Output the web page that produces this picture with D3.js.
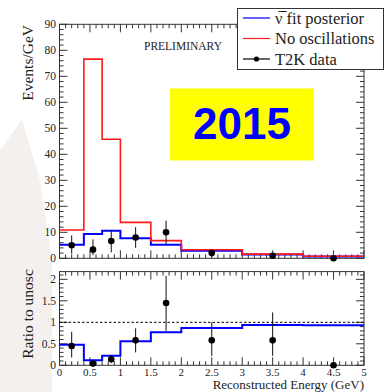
<!DOCTYPE html>
<html>
<head>
<meta charset="utf-8">
<script src="https://cdn.jsdelivr.net/npm/d3@7"></script>
<style>
  html, body { margin: 0; padding: 0; background: #ffffff; }
  svg { display: block; }
  text { font-family: "Liberation Serif", "DejaVu Serif", serif; fill: #222; }
</style>
</head>
<body>
<svg id="chart" width="390" height="392"></svg>
<script>
// Bin edges of reconstructed energy (GeV)
const binEdges = [0, 0.4, 0.7, 1.0, 1.5, 2.0, 3.0, 4.0, 5.0];
// Events/GeV per bin
const noOscValues = [10.9, 76.6, 45.8, 13.8, 6.8, 3.3, 1.6, 0.8];
const fitValues   = [5.2, 9.3, 10.6, 7.7, 5.2, 2.9, 1.5, 0.7];
// Ratio of the fit posterior to the unoscillated prediction
const ratioFitValues = [0.48, 0.12, 0.22, 0.56, 0.77, 0.87, 0.94, 0.93];
// Data points: energy, Events/GeV, error low/high
const dataX    = [0.2, 0.55, 0.85, 1.25, 1.75, 2.5, 3.5, 4.5];
const dataY    = [5.0, 3.33, 6.67, 8.0, 10.0, 2.0, 1.0, 0.0];
const dataLo   = [1.8, 1.2, 2.3, 4.0, 5.5, 0.6, 0.0, 0.0];
const dataHi   = [8.8, 7.3, 10.8, 12.0, 14.5, 3.4, 2.0, 0.0];
// Data ratio to unoscillated
const ratioY   = [0.45, 0.04, 0.14, 0.58, 1.45, 0.58, 0.58, 0.0];
const ratioLo  = [0.18, 0.0, 0.05, 0.30, 0.80, 0.22, 0.22, 0.0];
const ratioHi  = [0.78, 0.0, 0.24, 0.86, 2.08, 1.00, 1.23, 0.0];
// Tick labels
const topYTicks = [0, 10, 20, 30, 40, 50, 60, 70, 80, 90];
const botYTicks = [0, 0.5, 1, 1.5, 2];
const botXTicks = [0, 0.5, 1, 1.5, 2, 2.5, 3, 3.5, 4, 4.5, 5];
const legendLabels = ["\u03BD\u0305 fit posterior", "No oscillations", "T2K data"];

const svg = d3.select("#chart");

// faint slide backdrop on the left edge
svg.append("path")
  .attr("d", "M0,150 L22,120 L40,180 L52,260 L52,392 L0,392 Z")
  .attr("fill", "#f1ecea").attr("opacity", 0.8);

const x = d3.scaleLinear().domain([0, 5]).range([59.5, 364]);
const yTop = d3.scaleLinear().domain([0, 90]).range([258.3, 24.3]);
const yBot = d3.scaleLinear().domain([0, 2.18]).range([365.3, 271.6]);

const frameColor = "#333";

function drawFrame(y, yMajor, yMinor, xMajor, xMinor) {
  const [y0, y1] = y.range();
  const [x0, x1] = x.range();
  const g = svg.append("g");
  g.append("rect").attr("x", x0).attr("y", y1).attr("width", x1 - x0).attr("height", y0 - y1)
    .attr("fill", "#fff").attr("stroke", frameColor).attr("stroke-width", 1);
  const tk = g.append("g").attr("stroke", frameColor).attr("stroke-width", 1);
  xMinor.forEach(v => {
    const major = xMajor.some(m => Math.abs(m - v) < 1e-6);
    const len = major ? 8 : 4;
    tk.append("line").attr("x1", x(v)).attr("x2", x(v)).attr("y1", y0).attr("y2", y0 - len);
    tk.append("line").attr("x1", x(v)).attr("x2", x(v)).attr("y1", y1).attr("y2", y1 + len);
  });
  yMinor.forEach(v => {
    const major = yMajor.some(m => Math.abs(m - v) < 1e-6);
    const len = major ? 8 : 4;
    tk.append("line").attr("y1", y(v)).attr("y2", y(v)).attr("x1", x0).attr("x2", x0 + len);
    tk.append("line").attr("y1", y(v)).attr("y2", y(v)).attr("x1", x1).attr("x2", x1 - len);
  });
  return g;
}

const xMinorTicks = d3.range(0, 5.0001, 0.1);
const xMajorTicks = d3.range(0, 5.0001, 0.5);

// ---------- upper panel ----------
drawFrame(yTop, topYTicks, d3.range(0, 90.001, 2), xMajorTicks, xMinorTicks);

svg.append("g").selectAll("text").data(topYTicks).join("text")
  .attr("x", 56).attr("y", d => yTop(d) + 4)
  .attr("text-anchor", "end").attr("font-size", 11.5).attr("fill", "#333")
  .text(d => d);

svg.append("text")
  .attr("transform", `translate(33,25) rotate(-90)`)
  .attr("text-anchor", "end").attr("font-size", 15.5)
  .text("Events/GeV");

function stepLine(values, y) {
  const pts = values.map((v, i) => [binEdges[i], v]);
  pts.push([binEdges[binEdges.length - 1], values[values.length - 1]]);
  return d3.line().x(d => x(d[0])).y(d => y(d[1])).curve(d3.curveStepAfter)(pts);
}

// fit posterior first, unoscillated prediction drawn over it
svg.append("path").attr("d", stepLine(fitValues, yTop))
  .attr("fill", "none").attr("stroke", "#0000ff").attr("stroke-width", 2);
svg.append("path").attr("d", stepLine(noOscValues, yTop))
  .attr("fill", "none").attr("stroke", "#ff1a1a").attr("stroke-width", 1.6);

function drawPoints(xs, ys, lo, hi, y) {
  const g = svg.append("g");
  xs.forEach((xv, i) => {
    if (hi[i] > lo[i]) {
      g.append("line").attr("x1", x(xv)).attr("x2", x(xv))
        .attr("y1", y(lo[i])).attr("y2", y(hi[i]))
        .attr("stroke", "#111").attr("stroke-width", 1);
    }
    g.append("circle").attr("cx", x(xv)).attr("cy", y(ys[i])).attr("r", 3.3).attr("fill", "#000");
  });
}
drawPoints(dataX, dataY, dataLo, dataHi, yTop);

svg.append("text").attr("x", 144).attr("y", 50).attr("font-size", 11.5)
  .attr("fill", "#222").text("PRELIMINARY");

// year badge
svg.append("rect").attr("x", 170).attr("y", 88.5).attr("width", 144).attr("height", 72)
  .attr("fill", "#ffff00");
svg.append("text").attr("x", 242).attr("y", 139)
  .attr("text-anchor", "middle")
  .style("font-family", "'Liberation Sans', Arial, sans-serif")
  .style("font-weight", "bold").style("fill", "#0000ff")
  .attr("font-size", 44).text("2015");

// legend
const lg = svg.append("g");
lg.append("rect").attr("x", 237.5).attr("y", 8.5).attr("width", 146).attr("height", 61)
  .attr("fill", "#fff").attr("stroke", "#333").attr("stroke-width", 1);
const legendColors = ["#0000ff", "#ff1a1a", "#000"];
legendLabels.forEach((lab, i) => {
  const cy = 18 + i * 20.5;
  lg.append("line").attr("x1", 243).attr("x2", 270).attr("y1", cy).attr("y2", cy)
    .attr("stroke", legendColors[i]).attr("stroke-width", 1.2);
  if (i === 2) lg.append("circle").attr("cx", 256.5).attr("cy", cy).attr("r", 2.6).attr("fill", "#000");
  lg.append("text").attr("x", 275).attr("y", cy + 5.5).attr("font-size", 16.5).attr("fill", "#111").text(lab);
});

// ---------- ratio panel ----------
drawFrame(yBot, botYTicks, d3.range(0, 2.1001, 0.1), xMajorTicks, xMinorTicks);

svg.append("g").selectAll("text").data(botYTicks).join("text")
  .attr("x", 56).attr("y", d => yBot(d) + 4)
  .attr("text-anchor", "end").attr("font-size", 11.5).attr("fill", "#333")
  .text(d => d);

svg.append("g").selectAll("text").data(botXTicks).join("text")
  .attr("x", d => x(d)).attr("y", 375.5)
  .attr("text-anchor", "middle").attr("font-size", 11).attr("fill", "#333")
  .text(d => d);

svg.append("text")
  .attr("transform", `translate(33,314) rotate(-90)`)
  .attr("text-anchor", "middle").attr("font-size", 15.5)
  .text("Ratio to unosc");

svg.append("text").attr("x", 364).attr("y", 388.5)
  .attr("text-anchor", "end").attr("font-size", 13)
  .text("Reconstructed Energy (GeV)");

svg.append("line").attr("x1", x(0)).attr("x2", x(5)).attr("y1", yBot(1)).attr("y2", yBot(1))
  .attr("stroke", "#000").attr("stroke-width", 1).attr("stroke-dasharray", "2.5,2");

svg.append("path").attr("d", stepLine(ratioFitValues, yBot))
  .attr("fill", "none").attr("stroke", "#0000ff").attr("stroke-width", 2);

drawPoints(dataX, ratioY, ratioLo, ratioHi, yBot);
</script>
</body>
</html>
